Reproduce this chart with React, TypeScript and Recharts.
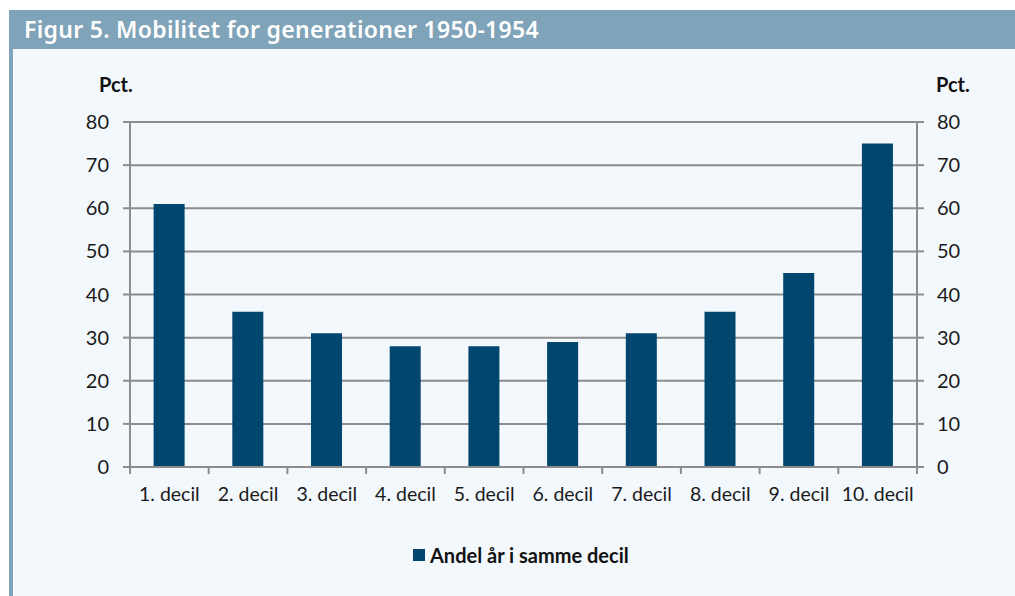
import { ComposedChart, Bar, Line, XAxis, YAxis, CartesianGrid } from "recharts";

const deciles = ["1. decil", "2. decil", "3. decil", "4. decil", "5. decil", "6. decil", "7. decil", "8. decil", "9. decil", "10. decil"];
const shares = [61, 36, 31, 28, 28, 29, 31, 36, 45, 75];
const yTicks = [0, 10, 20, 30, 40, 50, 60, 70, 80];

const data = deciles.map((d, i) => ({ decil: d, andel: shares[i] }));

const BAR = "#00466e";
const GRID = "#8c8c8c";
const FONT = "Lato, 'Noto Sans', sans-serif";

// category tick: label under the bar, tick mark on the category boundaries
const XTick = (props: any) => {
  const { x, y, payload, index } = props;
  const half = payload?.offset ?? 39;
  return (
    <g>
      <line x1={x - half} x2={x - half} y1={y - 8} y2={y - 1} stroke={GRID} strokeWidth={2} />
      {index === deciles.length - 1 && (
        <line x1={x + half} x2={x + half} y1={y - 8} y2={y - 1} stroke={GRID} strokeWidth={2} />
      )}
      <text x={x} y={y + 26} textAnchor="middle" fill="#1a1a1a" fontSize={19.5} fontFamily={FONT}>{payload.value}</text>
    </g>
  );
};

export default function App() {
  return (
    <div style={{ position: "absolute", left: 0, top: 0, width: 1015, height: 596, background: "#fff", overflow: "hidden" }}>
      {/* header */}
      <div style={{
        position: "absolute", left: 9, top: 10, width: 1006, height: 39, background: "#7fa3b8",
        color: "#fff", fontFamily: "'Noto Sans', sans-serif", fontWeight: 600, fontSize: 23, letterSpacing: 0.3,
        lineHeight: "39px", paddingLeft: 15, boxSizing: "border-box",
      }}>Figur 5. Mobilitet for generationer 1950-1954</div>
      {/* panel */}
      <div style={{ position: "absolute", left: 9, top: 49, width: 1006, height: 547, background: "#f3f8fd", borderLeft: "4px solid #7fa3b8", boxSizing: "border-box" }} />

      <div style={{ position: "absolute", left: 99, top: 72, fontFamily: FONT, fontWeight: 700, fontSize: 20, color: "#111" }}>Pct.</div>
      <div style={{ position: "absolute", left: 936, top: 72, fontFamily: FONT, fontWeight: 700, fontSize: 20, color: "#111" }}>Pct.</div>

      <div style={{ position: "absolute", left: 0, top: 0 }}>
        <ComposedChart width={1015} height={596} data={data} margin={{ top: 122, right: 38, bottom: 99, left: 70 }} barCategoryGap="30%">
          <CartesianGrid yAxisId="l" horizontal vertical={false} stroke={GRID} strokeWidth={2} />
          <XAxis dataKey="decil" height={30} axisLine={{ stroke: GRID, strokeWidth: 2 }} tickLine={false} tick={<XTick />} interval={0} />
          <YAxis yAxisId="l" domain={[0, 80]} ticks={yTicks} width={60} axisLine={{ stroke: GRID, strokeWidth: 2 }}
            tickLine={{ stroke: GRID, strokeWidth: 2 }} tickSize={7} tickMargin={14}
            tick={{ fill: "#1a1a1a", fontSize: 20, fontFamily: FONT }} />
          <YAxis yAxisId="r" orientation="right" domain={[0, 80]} ticks={yTicks} width={60} axisLine={{ stroke: GRID, strokeWidth: 2 }}
            tickLine={{ stroke: GRID, strokeWidth: 2 }} tickSize={7} tickMargin={13}
            tick={{ fill: "#1a1a1a", fontSize: 20, fontFamily: FONT }} />
          <Bar yAxisId="l" dataKey="andel" fill={BAR} isAnimationActive={false} />
          {/* invisible series so the right axis gets drawn */}
          <Line yAxisId="r" dataKey="andel" stroke="none" dot={false} activeDot={false} legendType="none" isAnimationActive={false} />
        </ComposedChart>
      </div>

      {/* legend */}
      <div style={{ position: "absolute", left: 413, top: 543, display: "flex", alignItems: "center", fontFamily: FONT, fontWeight: 700, fontSize: 20, color: "#111" }}>
        <span style={{ display: "inline-block", width: 12, height: 12, background: BAR, marginRight: 5 }} />
        Andel år i samme decil
      </div>
    </div>
  );
}
